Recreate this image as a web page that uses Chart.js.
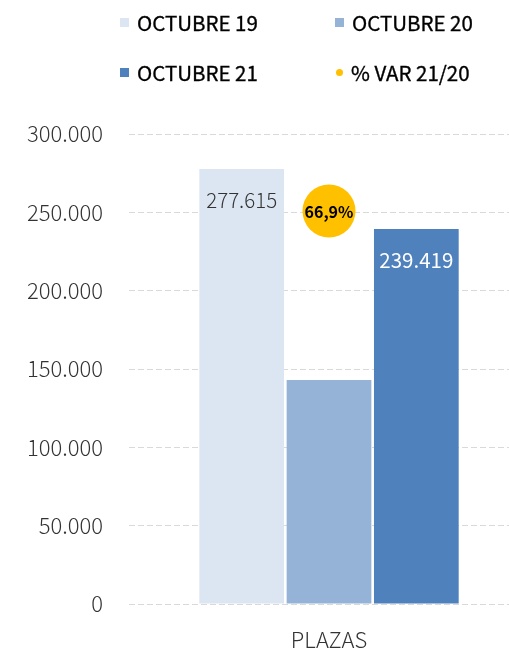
<!DOCTYPE html>
<html>
<head>
<meta charset="utf-8">
<script src="https://cdn.jsdelivr.net/npm/chart.js@4/dist/chart.umd.min.js"></script>
<style>
  html, body { margin: 0; padding: 0; background: #fff; }
  #wrap { position: relative; width: 509px; height: 650px; overflow: hidden; }
  #grafic { position: absolute; left: 0; top: 0; }
  #legend {
    position: absolute; left: 120px; top: -3px;
    display: grid; grid-template-columns: 215px auto; grid-auto-rows: 50px;
    font-family: "Noto Sans CJK JP", "Noto Sans", sans-serif; font-size: 20.5px; font-weight: 400; color: #000;
    -webkit-text-stroke: 0.35px #000;
  }
  #legend .item { display: flex; align-items: center; }
  #legend .mark { width: 9px; height: 9px; margin-right: 8px; flex: none; }
  #legend .dot { width: 7px; height: 7px; border-radius: 50%; margin: 0 8px 0 1px; flex: none; }
</style>
</head>
<body>
<div id="wrap">
  <canvas id="grafic" width="529" height="650"></canvas>
  <div id="legend"></div>
</div>
<script>
const categories = ['PLAZAS'];
const seriesNames = ['OCTUBRE 19', 'OCTUBRE 20', 'OCTUBRE 21'];
const octubre19 = [277615];
const octubre20 = [143000];
const octubre21 = [239419];
const varName = '% VAR 21/20';
const var2120 = [66.9];
const yTicks = [0, 50000, 100000, 150000, 200000, 250000, 300000];

const fontFam = '"Noto Sans CJK JP", "Noto Sans", sans-serif';

function fmtMiles(v) {
  return String(Math.round(v)).replace(/\B(?=(\d{3})+(?!\d))/g, '.');
}

const valueLabels = {
  id: 'valueLabels',
  afterDatasetsDraw(chart) {
    const ctx = chart.ctx;
    ctx.save();
    ctx.textAlign = 'center';
    ctx.textBaseline = 'middle';
    chart.data.datasets.forEach((ds, i) => {
      if (!ds.labelColor) return;
      const meta = chart.getDatasetMeta(i);
      meta.data.forEach((el, j) => {
        const v = ds.data[j];
        if (ds.type === 'line') {
          ctx.font = 'bold 16px ' + fontFam;
          ctx.fillStyle = ds.labelColor;
          ctx.fillText(String(v).replace('.', ',') + '%', el.x, el.y + 1);
        } else {
          ctx.font = ds.labelWeight + ' 20.5px ' + fontFam;
          ctx.fillStyle = ds.labelColor;
          ctx.fillText(fmtMiles(v), el.x, el.y + 31);
        }
      });
    });
    ctx.restore();
  }
};

const ctx1 = document.getElementById('grafic');

const data1 = {
  labels: categories,
  datasets: [
    {
      type: 'line',
      label: varName,
      data: var2120,
      yAxisID: 'y2',
      showLine: false,
      pointRadius: 26.5,
      pointHoverRadius: 26.5,
      pointBackgroundColor: '#FFC000',
      pointBorderWidth: 0,
      backgroundColor: '#FFC000',
      labelColor: '#000',
      order: 0
    },
    {
      label: seriesNames[0],
      data: octubre19,
      backgroundColor: '#DCE6F2',
      labelColor: '#333',
      labelWeight: '300',
      order: 1
    },
    {
      label: seriesNames[1],
      data: octubre20,
      backgroundColor: '#95B3D7',
      order: 1
    },
    {
      label: seriesNames[2],
      data: octubre21,
      backgroundColor: '#4F81BD',
      labelColor: '#fff',
      labelWeight: '400',
      order: 1
    }
  ]
};

const config1 = {
  type: 'bar',
  data: data1,
  options: {
    responsive: false,
    animation: false,
    layout: { autoPadding: false, padding: { top: 134, left: 0, right: 0, bottom: 0 } },
    datasets: { bar: { categoryPercentage: 0.655, barPercentage: 0.97 } },
    plugins: { legend: { display: false }, tooltip: { enabled: false } },
    scales: {
      x: {
        grid: { display: false },
        border: { display: false },
        ticks: { color: '#333', padding: 14, font: { family: fontFam, size: 22, weight: '300' } },
        afterFit(s) { s.height = 46; }
      },
      y: {
        min: 0,
        max: 300000,
        afterBuildTicks(s) { s.ticks = yTicks.map(v => ({ value: v })); },
        grid: { color: '#D9D9D9', lineWidth: 1, drawTicks: false },
        border: { display: false, dash: [6, 3] },
        ticks: {
          color: '#333', padding: 26,
          font: { family: fontFam, size: 22, weight: '300' },
          callback: v => fmtMiles(v)
        },
        afterFit(s) { s.width = 129; }
      },
      y2: {
        display: false,
        min: 0,
        max: 80
      }
    }
  },
  plugins: [valueLabels]
};

const chart1 = new Chart(ctx1, config1);

// html legend in two columns, order as in the original
const legendOrder = [1, 2, 3, 0];
const legendEl = document.getElementById('legend');
legendOrder.forEach(i => {
  const ds = data1.datasets[i];
  const item = document.createElement('div');
  item.className = 'item';
  const m = document.createElement('span');
  m.className = ds.type === 'line' ? 'dot' : 'mark';
  m.style.background = ds.backgroundColor;
  const t = document.createElement('span');
  t.textContent = ds.label;
  item.appendChild(m);
  item.appendChild(t);
  legendEl.appendChild(item);
});
</script>
</body>
</html>
